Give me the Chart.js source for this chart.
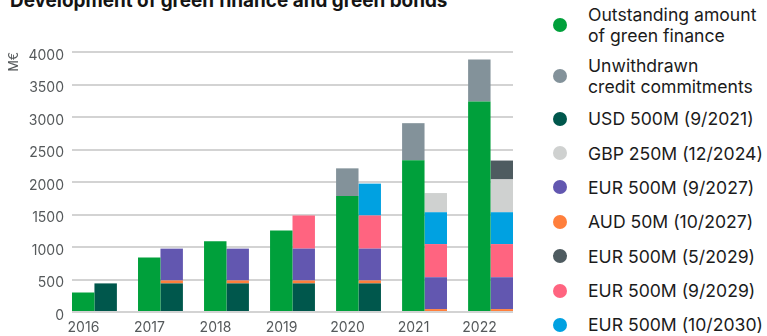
<!DOCTYPE html>
<html>
<head>
<meta charset="utf-8">
<title>Development of green finance and green bonds</title>
<script src="https://cdn.jsdelivr.net/npm/chart.js@4.4.1/dist/chart.umd.min.js"></script>
<style>
  html, body { margin: 0; padding: 0; background: #fff; overflow: hidden; }
  body { width: 767px; height: 336px; position: relative; font-family: Inter, "Liberation Sans", sans-serif; }
  h2 {
    position: absolute; left: 10px; top: -8px; margin: 0;
    font-size: 18.9px; line-height: 18px; font-weight: 700; color: #141414;
    white-space: nowrap;
  }
  #chartBox { position: absolute; left: 0; top: 0; width: 530px; height: 336px; }
  #legend { position: absolute; left: 553px; top: -0.5px; margin: 0; padding: 0; list-style: none; }
  #legend li {
    display: flex; align-items: center;
    padding: 6.7px 0; font-size: 17.6px; line-height: 21px; color: #1b1b1b;
    white-space: pre-line;
  }
  #legend li.multi { padding: 4.5px 0; }
  #legend .dot { width: 14px; height: 14px; border-radius: 50%; margin-right: 21px; flex: none; }
</style>
</head>
<body>
<h2>Development of green finance and green bonds</h2>
<div id="chartBox"><canvas id="greenChart"></canvas></div>
<ul id="legend"></ul>
<script>
const years = [2016, 2017, 2018, 2019, 2020, 2021, 2022];

// green finance (M€)
const outstanding = [300, 840, 1090, 1255, 1785, 2335, 3240];
const unwithdrawn = [null, null, null, null, 425, 570, 645];

// green bonds outstanding (M€)
const usd500m_2021 = [440, 440, 440, 440, 440, null, null];
const aud50m_2027 = [null, 45, 45, 45, 45, 45, 45];
const eur500m_2027 = [null, 490, 490, 490, 490, 490, 490];
const eur500m_2029sep = [null, null, null, 510, 510, 510, 510];
const eur500m_2030 = [null, null, null, null, 490, 490, 490];
const gbp250m_2024 = [null, null, null, null, null, 295, 505];
const eur500m_2029may = [null, null, null, null, null, null, 290];

const yMax = 4000;
const yStep = 500;

const datasets = [
  { label: 'Outstanding amount\nof green finance', data: outstanding, backgroundColor: '#00a03b', stack: 'finance' },
  { label: 'Unwithdrawn\ncredit commitments', data: unwithdrawn, backgroundColor: '#83929a', stack: 'finance' },
  { label: 'USD 500M (9/2021)', data: usd500m_2021, backgroundColor: '#00574c', stack: 'bonds' },
  { label: 'AUD 50M (10/2027)', data: aud50m_2027, backgroundColor: '#ff7f3c', stack: 'bonds' },
  { label: 'EUR 500M (9/2027)', data: eur500m_2027, backgroundColor: '#6257b0', stack: 'bonds' },
  { label: 'EUR 500M (9/2029)', data: eur500m_2029sep, backgroundColor: '#ff6480', stack: 'bonds' },
  { label: 'EUR 500M (10/2030)', data: eur500m_2030, backgroundColor: '#00a1e1', stack: 'bonds' },
  { label: 'GBP 250M (12/2024)', data: gbp250m_2024, backgroundColor: '#cfd1d0', stack: 'bonds' },
  { label: 'EUR 500M (5/2029)', data: eur500m_2029may, backgroundColor: '#4e5b60', stack: 'bonds' }
];
// legend lists the bonds by currency first, not by stacking order
const legendSequence = [0, 1, 2, 7, 4, 3, 8, 5, 6];

const tickFont = { family: 'Inter', size: 14 };
const tickColor = '#55595b';
const catPct = 0.68;

const chart = new Chart(document.getElementById('greenChart'), {
  type: 'bar',
  data: { labels: years, datasets: datasets },
  options: {
    responsive: true,
    maintainAspectRatio: false,
    animation: false,
    layout: { padding: { top: 52, right: 17, left: 0, bottom: 0 } },
    datasets: { bar: { categoryPercentage: catPct, barPercentage: 1, borderWidth: 0 } },
    plugins: { legend: { display: false }, tooltip: { enabled: false } },
    scales: {
      x: {
        type: 'linear',
        offset: false,
        min: years[0] - catPct / 2,
        max: years[years.length - 1] + catPct / 2,
        grid: { display: false, drawTicks: false },
        border: { display: false },
        ticks: {
          stepSize: 1,
          includeBounds: false,
          font: tickFont,
          color: tickColor,
          padding: 7,
          labelOffset: -11,
          callback: v => String(v)
        },
        afterFit: s => { s.height = 24; }
      },
      y: {
        min: 0,
        max: yMax,
        grid: { color: '#d3d3d3', lineWidth: 2, drawTicks: false },
        border: { display: false },
        ticks: {
          stepSize: yStep, font: tickFont, color: tickColor, padding: 8, labelOffset: 3.5,
          callback: v => String(v)
        },
        title: {
          display: true, text: 'M€', align: 'end',
          font: { family: 'Inter', size: 12.5 }, color: tickColor,
          padding: { top: 7, bottom: 0 }
        },
        afterFit: s => { s.width = 72; }
      }
    }
  }
});

const legendEl = document.getElementById('legend');
legendSequence.forEach(i => {
  const ds = chart.data.datasets[i];
  const li = document.createElement('li');
  if (ds.label.includes('\n')) li.className = 'multi';
  const dot = document.createElement('span');
  dot.className = 'dot';
  dot.style.background = ds.backgroundColor;
  const txt = document.createElement('span');
  txt.textContent = ds.label;
  li.appendChild(dot);
  li.appendChild(txt);
  legendEl.appendChild(li);
});
</script>
</body>
</html>
